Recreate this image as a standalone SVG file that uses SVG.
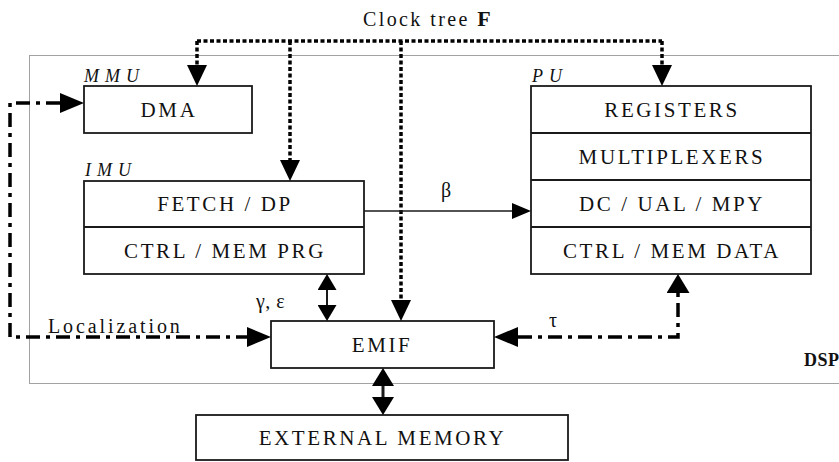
<svg xmlns="http://www.w3.org/2000/svg" width="839" height="462" viewBox="0 0 839 462">
<style>
  .box { fill: #fff; stroke: #1a1a1a; stroke-width: 1.8; }
  .div { stroke: #1a1a1a; stroke-width: 1.8; fill: none; }
  text { font-family: "Liberation Serif", "Times New Roman", serif; fill: #111; }
  .t { font-size: 21px; letter-spacing: 2.6px; text-anchor: middle; }
  .lab { font-size: 18px; font-style: italic; letter-spacing: 6px; }
  .g { font-size: 20px; }
  .clk { stroke: #000; stroke-width: 3.5; stroke-dasharray: 4 2.5; fill: none; }
  .dd { stroke: #000; stroke-width: 3.5; stroke-dasharray: 14 6 4 6; fill: none; }
  .sol { stroke: #1a1a1a; fill: none; }
</style>
<defs>
  <marker id="mClk" markerUnits="userSpaceOnUse" markerWidth="21" markerHeight="20" viewBox="0 0 21 20" refX="0" refY="10" orient="auto-start-reverse"><path d="M0,0 L21,10 L0,20 z" fill="#000"/></marker>
  <marker id="mBeta" markerUnits="userSpaceOnUse" markerWidth="19" markerHeight="16" viewBox="0 0 19 16" refX="0" refY="8" orient="auto-start-reverse"><path d="M0,0 L19,8 L0,16 z" fill="#000"/></marker>
  <marker id="mDbl" markerUnits="userSpaceOnUse" markerWidth="16" markerHeight="19" viewBox="0 0 16 19" refX="0" refY="9.5" orient="auto-start-reverse"><path d="M0,0 L16,9.5 L0,19 z" fill="#000"/></marker>
  <marker id="mBig" markerUnits="userSpaceOnUse" markerWidth="18" markerHeight="22" viewBox="0 0 18 22" refX="0" refY="11" orient="auto-start-reverse"><path d="M0,0 L18,11 L0,22 z" fill="#000"/></marker>
  <marker id="mDD" markerUnits="userSpaceOnUse" markerWidth="24" markerHeight="20" viewBox="0 0 24 20" refX="0" refY="10" orient="auto-start-reverse"><path d="M0,0 L24,10 L0,20 z" fill="#000"/></marker>
  <marker id="mDD2" markerUnits="userSpaceOnUse" markerWidth="19" markerHeight="23" viewBox="0 0 19 23" refX="0" refY="11.5" orient="auto-start-reverse"><path d="M0,0 L19,11.5 L0,23 z" fill="#000"/></marker>
</defs>

<g id="dsp">
  <rect x="29.5" y="55.5" width="830" height="328" fill="none" stroke="#444" stroke-width="1" stroke-dasharray="1 1"/>
  <text x="804" y="366" font-size="18" font-weight="bold" letter-spacing="0.5">DSP</text>
</g>

<g id="clock-label">
  <text x="363" y="26" class="g" font-size="19" letter-spacing="2.4">Clock tree <tspan font-weight="bold" font-size="22" letter-spacing="0">F</tspan></text>
</g>

<g id="mmu">
  <text x="84" y="82" class="lab">MMU</text>
  <rect x="84" y="86" width="168" height="47" class="box"/>
  <text x="169" y="116.5" class="t">DMA</text>
</g>

<g id="imu">
  <text x="85" y="176" class="lab">IMU</text>
  <rect x="84" y="181" width="280" height="93" class="box"/>
  <line x1="84" y1="227" x2="364" y2="227" class="div"/>
  <text x="225" y="211" class="t">FETCH / DP</text>
  <text x="225" y="257.5" class="t">CTRL / MEM PRG</text>
</g>

<g id="pu">
  <text x="532" y="82" class="lab">PU</text>
  <rect x="531" y="86" width="280" height="188" class="box"/>
  <line x1="531" y1="133" x2="811" y2="133" class="div"/>
  <line x1="531" y1="180" x2="811" y2="180" class="div"/>
  <line x1="531" y1="227" x2="811" y2="227" class="div"/>
  <text x="672" y="116.5" class="t">REGISTERS</text>
  <text x="672" y="163.5" class="t">MULTIPLEXERS</text>
  <text x="672" y="210.5" class="t">DC / UAL / MPY</text>
  <text x="672" y="257.5" class="t">CTRL / MEM DATA</text>
</g>

<g id="emif">
  <rect x="271" y="321" width="223" height="47" class="box"/>
  <text x="382" y="352" class="t">EMIF</text>
</g>

<g id="external-memory">
  <rect x="196" y="415" width="372" height="45" class="box"/>
  <text x="382.5" y="445" class="t">EXTERNAL MEMORY</text>
</g>

<g id="connectors">
  <path d="M197,41 H662" class="clk"/>
  <path d="M197,41 V65" class="clk" marker-end="url(#mClk)"/>
  <path d="M290,41 V160" class="clk" marker-end="url(#mClk)"/>
  <path d="M401,41 V300" class="clk" marker-end="url(#mClk)"/>
  <path d="M662,41 V65" class="clk" marker-end="url(#mClk)"/>
  <path d="M364,211 H512" class="sol" stroke-width="1.5" marker-end="url(#mBeta)"/>
  <text x="441" y="197" class="g" font-size="24">β</text>
  <path d="M327,290 V305" class="sol" stroke-width="2" marker-start="url(#mDbl)" marker-end="url(#mDbl)"/>
  <text x="256" y="308" class="g" font-size="24" letter-spacing="0.5">γ, ε</text>
  <path d="M383,386 V397" class="sol" stroke-width="3" marker-start="url(#mBig)" marker-end="url(#mBig)"/>
  <path d="M60,103 H10 V337 H247" class="dd" marker-start="url(#mDD)" marker-end="url(#mDD)"/>
  <text x="48" y="333" class="g" font-size="19" letter-spacing="2.9">Localization</text>
  <path d="M518,337 H678 V293" class="dd" marker-start="url(#mDD)" marker-end="url(#mDD2)"/>
  <text x="549" y="327" class="g" font-size="24">τ</text>
</g>
</svg>
